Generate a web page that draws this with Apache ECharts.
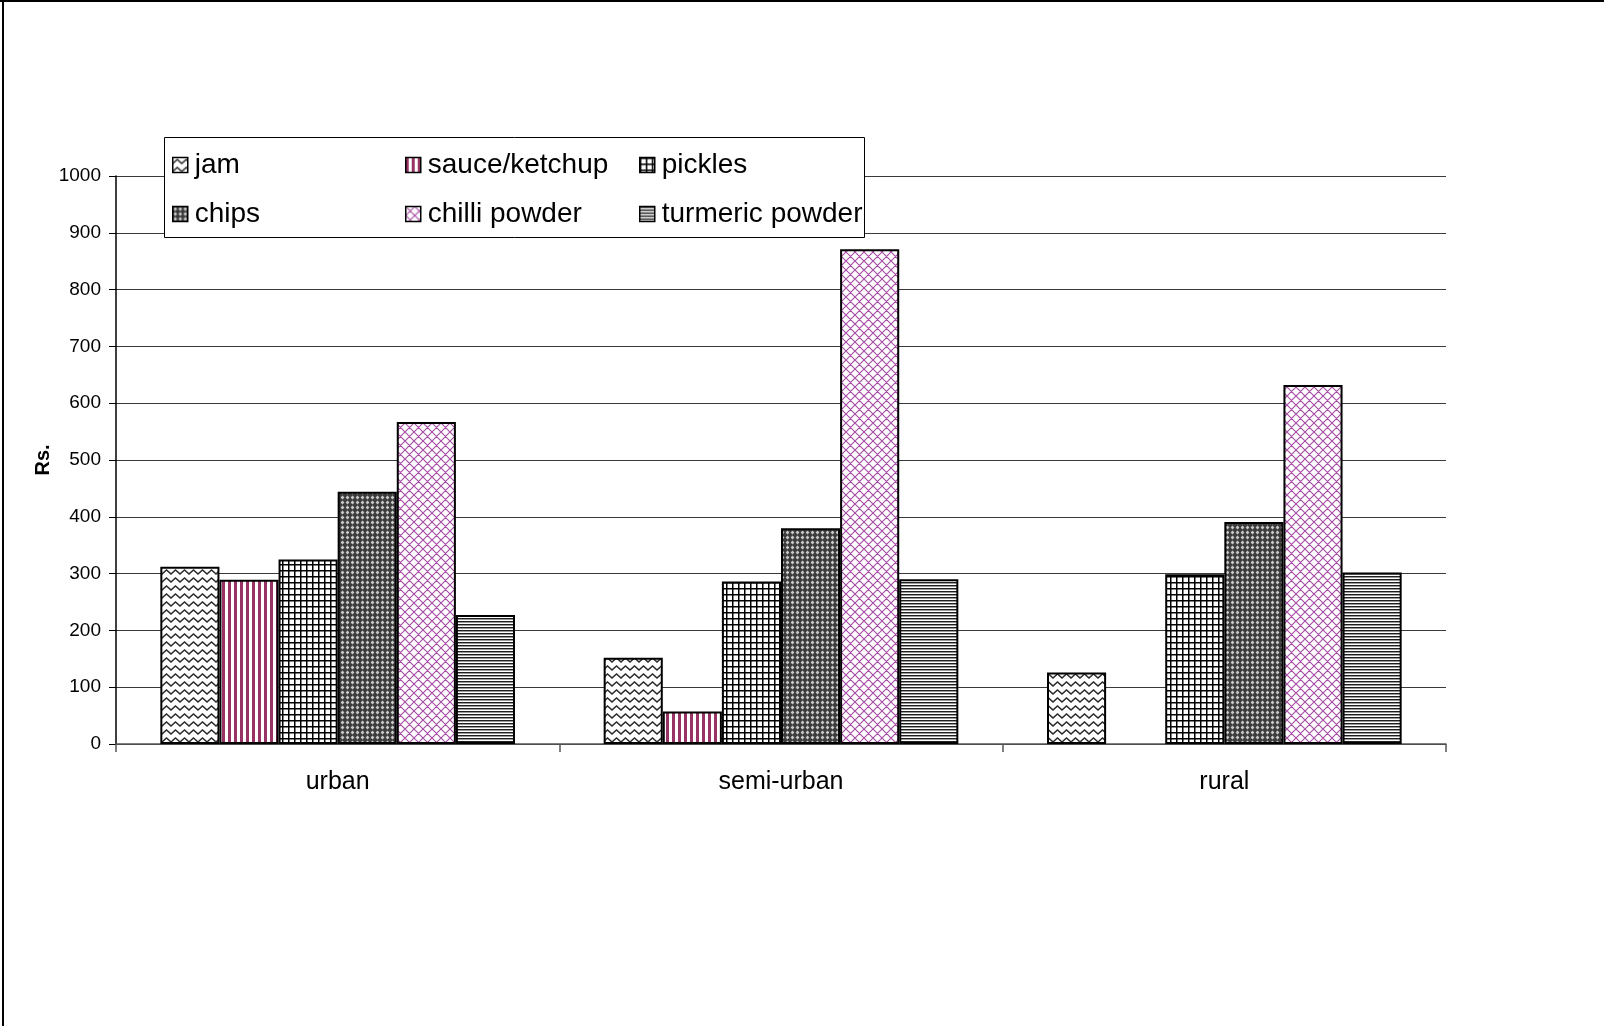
<!DOCTYPE html>
<html>
<head>
<meta charset="utf-8">
<title>Rs. by product and area</title>
<script src="https://cdn.jsdelivr.net/npm/echarts@6/dist/echarts.min.js"></script>
<style>
  html, body { margin: 0; padding: 0; background: #fff; }
  #chart { width: 1604px; height: 1026px; }
</style>
</head>
<body>
<div id="chart"></div>
<script>
// Areas on the x axis
const categories = ['urban', 'semi-urban', 'rural'];

// Spending (Rs.) per product and area
const jam = [312, 152, 126];
const sauceKetchup = [289, 57, null];
const pickles = [325, 286, 299];
const chips = [444, 380, 391];
const chilliPowder = [567, 871, 632];
const turmericPowder = [227, 290, 302];

// Value axis
const yMin = 0;
const yMax = 1000;
const yStep = 100;

const FONT = "'Liberation Sans', Arial, sans-serif";

// Small repeating canvas tiles used as bar fills
function tile(w, h, draw) {
  const c = document.createElement('canvas');
  c.width = w;
  c.height = h;
  const g = c.getContext('2d');
  g.fillStyle = '#fff';
  g.fillRect(0, 0, w, h);
  draw(g, w, h);
  return { image: c, repeat: 'repeat' };
}

const fillJam = tile(9, 8, g => {
  g.strokeStyle = '#2a2a2a';
  g.lineWidth = 1.4;
  g.beginPath();
  g.moveTo(-4.5, 2); g.lineTo(0, 6); g.lineTo(4.5, 2); g.lineTo(9, 6); g.lineTo(13.5, 2);
  g.stroke();
});

const fillSauce = tile(6, 2, g => {
  g.fillStyle = '#993366';
  g.fillRect(0, 0, 3, 2);
});

const fillPickles = tile(6, 6, g => {
  g.fillStyle = '#000';
  g.fillRect(0, 0, 6, 1.5);
  g.fillRect(0, 0, 1.5, 6);
});

const fillChips = tile(5, 5, g => {
  g.fillStyle = '#3c3c3c';
  g.fillRect(0, 0, 5, 5);
  g.fillStyle = '#c8c8c8';
  g.beginPath();
  g.moveTo(2.5, 0.6); g.lineTo(4.4, 2.5); g.lineTo(2.5, 4.4); g.lineTo(0.6, 2.5);
  g.closePath();
  g.fill();
});

const fillChilli = tile(9, 9, g => {
  g.strokeStyle = '#a64ea6';
  g.lineWidth = 1.15;
  g.beginPath();
  for (const o of [-9, 0, 9]) {
    g.moveTo(o, 0); g.lineTo(o + 9, 9);
    g.moveTo(o + 9, 0); g.lineTo(o, 9);
  }
  g.stroke();
});

const fillTurmeric = tile(4, 3, g => {
  g.fillStyle = '#1e1e1e';
  g.fillRect(0, 0, 4, 1);
  g.fillStyle = '#9a9a9a';
  g.fillRect(0, 1, 4, 1);
});

const seriesDefs = [
  { name: 'jam', data: jam, fill: fillJam },
  { name: 'sauce/ketchup', data: sauceKetchup, fill: fillSauce },
  { name: 'pickles', data: pickles, fill: fillPickles },
  { name: 'chips', data: chips, fill: fillChips },
  { name: 'chilli powder', data: chilliPowder, fill: fillChilli },
  { name: 'turmeric powder', data: turmericPowder, fill: fillTurmeric }
];

const legendColumns = [
  ['jam', 'chips'],
  ['sauce/ketchup', 'chilli powder'],
  ['pickles', 'turmeric powder']
];
const legendLeft = [172, 405, 639];

const chart = echarts.init(document.getElementById('chart'), null, { renderer: 'canvas' });

chart.setOption({
  backgroundColor: '#fff',
  animation: false,
  textStyle: { fontFamily: FONT, color: '#000' },
  grid: { left: 116, right: 158, top: 176, bottom: 282, containLabel: false },
  graphic: [
    {
      type: 'rect', z: 1,
      shape: { x: 164.5, y: 137.5, width: 700, height: 100 },
      style: { fill: '#fff', stroke: '#000', lineWidth: 1 }
    },
    {
      type: 'line', z: 1,
      shape: { x1: 0, y1: 1, x2: 1604, y2: 1 },
      style: { stroke: '#000', lineWidth: 2 }
    },
    {
      type: 'line', z: 1,
      shape: { x1: 3, y1: 0, x2: 3, y2: 1026 },
      style: { stroke: '#000', lineWidth: 2 }
    }
  ],
  legend: legendColumns.map((names, i) => ({
    data: names,
    orient: 'vertical',
    left: legendLeft[i],
    top: 151,
    padding: 0,
    itemGap: 21,
    itemWidth: 15,
    itemHeight: 15,
    selectedMode: false,
    icon: 'rect',
    itemStyle: { borderColor: '#000', borderWidth: 1.5 },
    textStyle: {
      fontFamily: FONT, fontSize: 28, color: '#000',
      lineHeight: 28, padding: [0, 0, 0, 2]
    }
  })),
  xAxis: {
    type: 'category',
    data: categories,
    axisLine: { show: true, lineStyle: { color: '#555', width: 1.5 } },
    axisTick: { show: true, length: 8, interval: 0, lineStyle: { color: '#555', width: 1.5 } },
    axisLabel: { fontFamily: FONT, fontSize: 25, color: '#000', margin: 26, interval: 0 },
    splitLine: { show: false }
  },
  yAxis: {
    type: 'value',
    min: yMin,
    max: yMax,
    interval: yStep,
    name: 'Rs.',
    nameLocation: 'middle',
    nameGap: 63,
    nameMoveOverlap: false,
    nameTextStyle: { fontFamily: FONT, fontSize: 20, fontWeight: 'bold', color: '#000' },
    axisLine: { show: true, lineStyle: { color: '#000', width: 1.5 } },
    axisTick: { show: true, length: 7, lineStyle: { color: '#000', width: 1 } },
    axisLabel: {
      fontFamily: FONT, fontSize: 19, color: '#000', margin: 15,
      formatter: v => String(v)
    },
    splitLine: { show: true, lineStyle: { color: '#3a3a3a', width: 1.2 } }
  },
  series: seriesDefs.map(s => ({
    type: 'bar',
    name: s.name,
    data: s.data,
    barGap: '0%',
    barCategoryGap: '20%',
    itemStyle: { color: s.fill, borderColor: '#000', borderWidth: 2 },
    emphasis: { disabled: true }
  }))
});
</script>
</body>
</html>
